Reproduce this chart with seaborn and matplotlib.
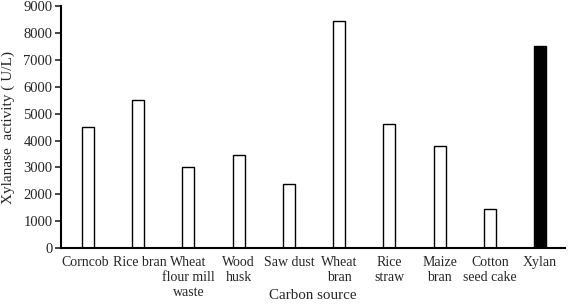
import matplotlib
matplotlib.use("Agg")
import matplotlib.pyplot as plt
import matplotlib.transforms as mtransforms
import seaborn as sns
import pandas as pd

categories = ["Corncob", "Rice bran", "Wheat\nflour mill\nwaste", "Wood\nhusk", "Saw dust",
              "Wheat\nbran", "Rice\nstraw", "Maize\nbran", "Cotton\nseed cake", "Xylan"]
activity = [4500, 5500, 3000, 3450, 2400, 8450, 4600, 3800, 1450, 7500]
fill_colors = ["white"] * 9 + ["black"]
y_ticks = [0, 1000, 2000, 3000, 4000, 5000, 6000, 7000, 8000, 9000]

sns.set_theme(style="white")
plt.rcParams["font.family"] = ["Liberation Serif", "DejaVu Serif"]

df = pd.DataFrame({"cat": categories, "val": activity})

fig = plt.figure(figsize=(5.68, 3.04), dpi=100)
ax = fig.add_axes([0.107, 0.184, 0.888, 0.796])
sns.barplot(data=df, x="cat", y="val", hue="cat", palette=fill_colors, legend=False,
            edgecolor="black", linewidth=1.0, width=0.24, ax=ax, saturation=1)

ax.set_xlim(-0.54, 9.5)
ax.set_ylim(0, 9000)
ax.set_yticks(y_ticks)
ax.set_yticklabels([str(t) for t in y_ticks], fontsize=10.5)
ax.tick_params(axis="y", direction="out", length=4, width=1.2, left=True, pad=2)
ax.tick_params(axis="x", length=0, labelsize=10, pad=6)
labels = ax.get_xticklabels()
for lab in labels:
    lab.set_linespacing(1.2)
shift_left = mtransforms.ScaledTranslation(-2.5 / 100, 0, fig.dpi_scale_trans)
shift_right = mtransforms.ScaledTranslation(1.5 / 100, 0, fig.dpi_scale_trans)
labels[0].set_transform(labels[0].get_transform() + shift_left)
labels[1].set_transform(labels[1].get_transform() + shift_right)
sns.despine(ax=ax)
ax.spines["left"].set_linewidth(1.5)
ax.spines["bottom"].set_linewidth(1.5)
ax.spines["left"].set_color("black")
ax.spines["bottom"].set_color("black")
ax.set_xlabel("Carbon source", fontsize=10.8, labelpad=0)
ax.set_ylabel("Xylanase  activity ( U/L)", fontsize=11, labelpad=6)
ax.xaxis.set_label_coords(0.5, -0.17)

fig.savefig("out.png", dpi=100)
